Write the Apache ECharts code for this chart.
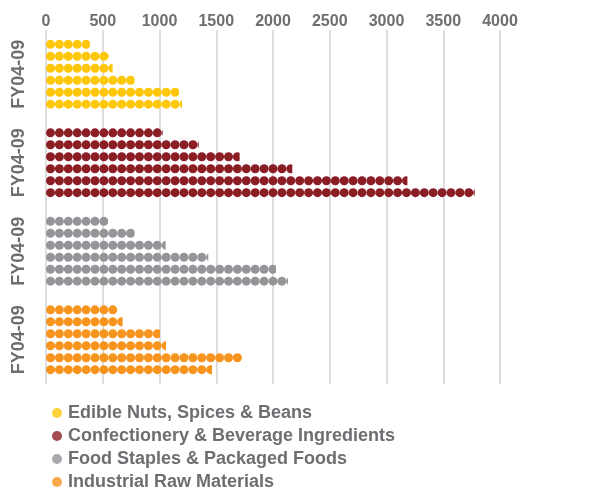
<!DOCTYPE html>
<html><head><meta charset="utf-8">
<script src="https://cdn.jsdelivr.net/npm/echarts@6/dist/echarts.min.js"></script>
<style>html,body{margin:0;padding:0;background:#fff}#c{width:590px;height:493px}</style>
</head><body><div id="c"></div>
<script>
var groupLabels = ['FY04-09', 'FY04-09', 'FY04-09', 'FY04-09'];
var groupNames = ['Edible Nuts, Spices & Beans', 'Confectionery & Beverage Ingredients', 'Food Staples & Packaged Foods', 'Industrial Raw Materials'];
var groupColors = ['#FFC70A', '#8B1E24', '#939598', '#F7941E'];
var years = ['FY04', 'FY05', 'FY06', 'FY07', 'FY08', 'FY09'];
var edibleNuts = [388, 555, 587, 781, 1172, 1198];
var confectionery = [1028, 1345, 1706, 2170, 3184, 3777];
var foodStaples = [549, 781, 1054, 1430, 2026, 2132];
var industrial = [628, 675, 1004, 1057, 1727, 1463];
var xTicks = [0, 500, 1000, 1500, 2000, 2500, 3000, 3500, 4000];

var groups = [edibleNuts, confectionery, foodStaples, industrial];
var txt = '#6D6E71';
var font = 'Liberation Sans';
var series = years.map(function (y, yi) {
  return {
    type: 'pictorialBar', name: y,
    symbol: 'circle', symbolRepeat: true, symbolClip: true,
    symbolSize: [9, 9], symbolMargin: 0,
    barWidth: 9, barGap: '33%', barCategoryGap: '19%',
    data: groups.map(function (g, gi) {
      return { value: g[yi], itemStyle: { color: groupColors[gi] } };
    })
  };
});
groupNames.forEach(function (n, i) {
  series.push({ type: 'scatter', name: n, data: [], itemStyle: { color: groupColors[i] } });
});
var chart = echarts.init(document.getElementById('c'));
chart.setOption({
  animation: false,
  grid: { left: 46, right: 90, top: 30, bottom: 109 },
  xAxis: {
    type: 'value', position: 'top', min: 0, max: 4000, interval: 500,
    axisLine: { show: false }, axisTick: { show: false },
    splitLine: { lineStyle: { color: '#D3D3D3', width: 1.5 } },
    axisLabel: { color: txt, fontSize: 16, fontWeight: 'bold', fontFamily: font, margin: 0,
      formatter: function (v) { return xTicks.indexOf(v) >= 0 ? String(v) : ''; } }
  },
  yAxis: {
    type: 'category', inverse: true, data: groupLabels,
    axisLine: { show: false }, axisTick: { show: false },
    axisLabel: { interval: 0, rotate: 90, color: txt, fontSize: 18, fontWeight: 'bold', fontFamily: font, margin: 18 }
  },
  legend: {
    data: groupNames, orient: 'vertical', left: 52, top: 404, height: 89, padding: 0,
    icon: 'circle', itemWidth: 10, itemHeight: 10, itemGap: 5,
    textStyle: { color: txt, fontSize: 18, fontWeight: 'bold', fontFamily: font, padding: [0, 0, 0, 1] }
  },
  series: series
});
</script></body></html>
